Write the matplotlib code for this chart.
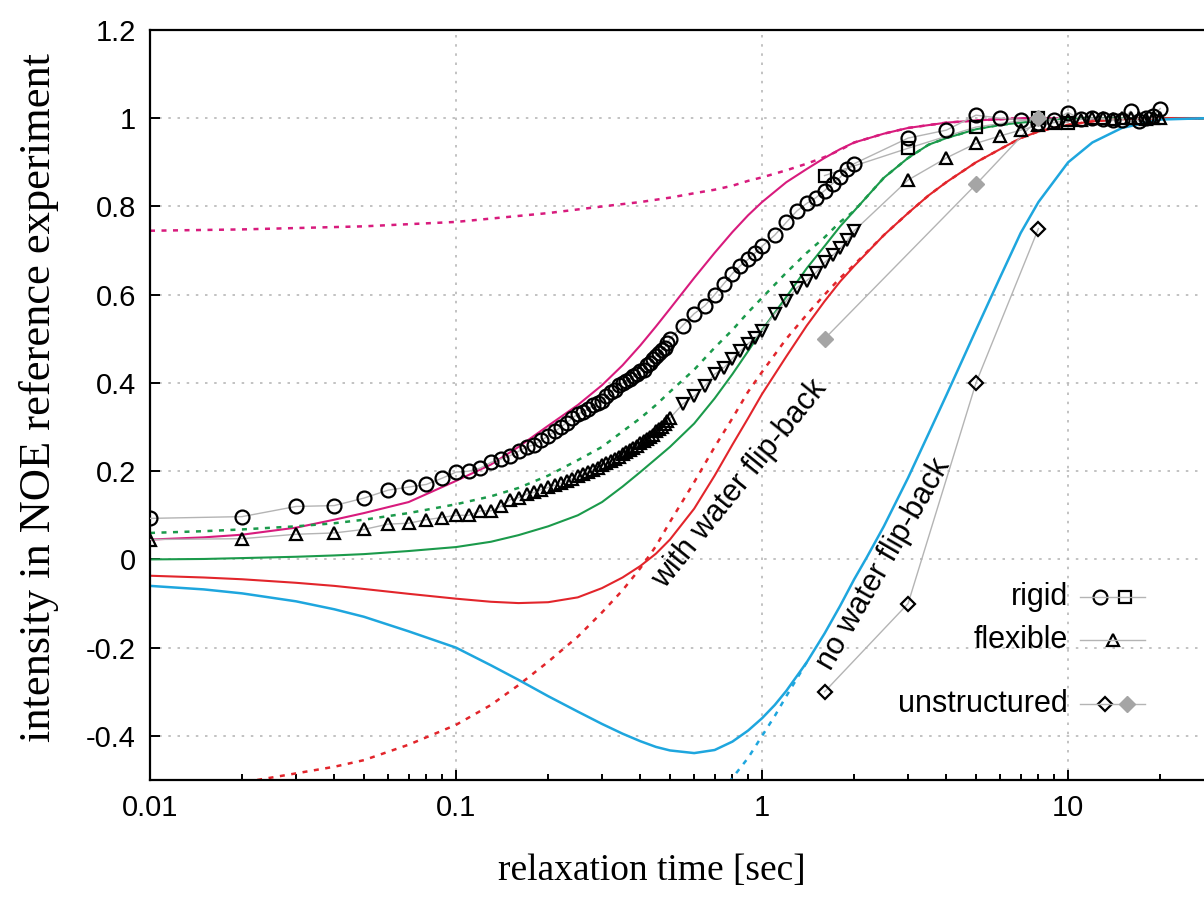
import numpy as np
import matplotlib
matplotlib.use("Agg")
import matplotlib.pyplot as plt
from matplotlib.ticker import FixedLocator, LogLocator, NullFormatter

plt.rcParams["font.family"] = "Liberation Sans"

# ---- model curves ----
mag_t = [0.01, 0.015, 0.02, 0.03, 0.04, 0.05, 0.07, 0.1, 0.13, 0.16, 0.2, 0.25, 0.3, 0.35,
         0.4, 0.45, 0.5, 0.6, 0.7, 0.8, 0.9, 1.0, 1.2, 1.4, 1.6, 1.8, 2.0, 2.5, 3.0, 4.0,
         5.0, 7.0, 28.0]
mag_v = [0.045, 0.05, 0.056, 0.072, 0.09, 0.105, 0.13, 0.178, 0.215, 0.255, 0.303, 0.35,
         0.395, 0.44, 0.485, 0.528, 0.568, 0.638, 0.695, 0.742, 0.78, 0.81, 0.855, 0.885,
         0.91, 0.93, 0.945, 0.965, 0.978, 0.99, 0.995, 1.0, 1.0]

magd_t = [0.01, 0.02, 0.05, 0.1, 0.2, 0.3, 0.4, 0.5, 0.6, 0.7, 0.8, 0.9, 1.0, 1.2, 1.4,
          1.6, 1.8, 2.0, 2.5, 3.0, 4.0, 5.0, 7.0, 28.0]
magd_v = [0.745, 0.748, 0.755, 0.765, 0.785, 0.80, 0.81, 0.82, 0.83, 0.838, 0.847, 0.858,
          0.866, 0.882, 0.897, 0.912, 0.928, 0.945, 0.965, 0.978, 0.99, 0.995, 1.0, 1.0]

grn_t = [0.01, 0.015, 0.02, 0.03, 0.04, 0.05, 0.07, 0.1, 0.13, 0.16, 0.2, 0.25, 0.3, 0.35,
         0.4, 0.45, 0.5, 0.6, 0.7, 0.8, 0.9, 1.0, 1.2, 1.4, 1.6, 1.8, 2.0, 2.5, 3.0, 3.5,
         4.0, 5.0, 6.0, 7.0, 10.0, 28.0]
grn_v = [0.0, 0.001, 0.003, 0.006, 0.009, 0.012, 0.019, 0.028, 0.04, 0.055, 0.075, 0.1,
         0.13, 0.165, 0.198, 0.228, 0.255, 0.308, 0.365, 0.42, 0.472, 0.52, 0.595, 0.66,
         0.71, 0.755, 0.79, 0.865, 0.91, 0.94, 0.955, 0.975, 0.985, 0.99, 1.0, 1.0]

grnd_t = [0.01, 0.015, 0.02, 0.03, 0.04, 0.05, 0.07, 0.1, 0.13, 0.16, 0.2, 0.25, 0.3, 0.35,
          0.4, 0.45, 0.5, 0.6, 0.7, 0.8, 0.9, 1.0, 1.2, 1.4, 1.6, 1.8, 2.0, 2.5, 3.0, 3.5,
          4.0, 5.0, 6.0, 7.0, 10.0, 28.0]
grnd_v = [0.06, 0.064, 0.068, 0.075, 0.082, 0.09, 0.105, 0.125, 0.143, 0.162, 0.19, 0.225,
          0.255, 0.29, 0.32, 0.35, 0.38, 0.43, 0.48, 0.52, 0.56, 0.593, 0.65, 0.695, 0.73,
          0.765, 0.79, 0.865, 0.91, 0.94, 0.955, 0.975, 0.985, 0.99, 1.0, 1.0]

red_t = [0.01, 0.015, 0.02, 0.03, 0.04, 0.05, 0.07, 0.1, 0.13, 0.16, 0.2, 0.25, 0.3, 0.35,
         0.4, 0.45, 0.5, 0.6, 0.7, 0.8, 0.9, 1.0, 1.2, 1.4, 1.6, 1.8, 2.0, 2.5, 3.0, 3.5,
         4.0, 5.0, 6.0, 7.0, 8.0, 10.0, 12.0, 15.0, 20.0, 28.0]
red_v = [-0.037, -0.041, -0.045, -0.053, -0.06, -0.067, -0.078, -0.089, -0.096, -0.099,
         -0.097, -0.086, -0.065, -0.041, -0.015, 0.013, 0.045, 0.115, 0.19, 0.26, 0.32,
         0.375, 0.46, 0.53, 0.585, 0.63, 0.665, 0.735, 0.785, 0.825, 0.855, 0.9, 0.93,
         0.955, 0.97, 0.985, 0.993, 0.998, 1.0, 1.0]

redd_t = [0.0224, 0.03, 0.04, 0.05, 0.07, 0.1, 0.13, 0.16, 0.2, 0.25, 0.3, 0.35, 0.4, 0.45,
          0.5, 0.6, 0.7, 0.8, 0.9, 1.0, 1.2, 1.4, 1.6, 1.8, 2.0, 2.5, 3.0, 3.5, 4.0, 5.0,
          6.0, 7.0, 8.0, 10.0, 12.0, 15.0, 20.0, 28.0]
redd_v = [-0.5, -0.485, -0.47, -0.455, -0.42, -0.375, -0.33, -0.285, -0.232, -0.175, -0.12,
          -0.07, -0.02, 0.03, 0.085, 0.175, 0.255, 0.32, 0.38, 0.425, 0.5, 0.555, 0.6,
          0.638, 0.668, 0.735, 0.785, 0.825, 0.855, 0.9, 0.93, 0.955, 0.97, 0.985, 0.993,
          0.998, 1.0, 1.0]

blu_t = [0.01, 0.015, 0.02, 0.03, 0.04, 0.05, 0.07, 0.1, 0.13, 0.16, 0.2, 0.25, 0.3, 0.35,
         0.4, 0.45, 0.5, 0.6, 0.7, 0.8, 0.9, 1.0, 1.1, 1.2, 1.4, 1.6, 1.8, 2.0, 2.2, 2.5,
         3.0, 3.5, 4.0, 4.5, 5.0, 6.0, 7.0, 8.0, 10.0, 12.0, 15.0, 20.0, 28.0]
blu_v = [-0.06, -0.068, -0.077, -0.095, -0.113, -0.13, -0.163, -0.2, -0.24, -0.273, -0.31,
         -0.345, -0.373, -0.395, -0.412, -0.425, -0.433, -0.439, -0.432, -0.413, -0.388,
         -0.36, -0.33, -0.298, -0.233, -0.168, -0.105, -0.045, 0.005, 0.075, 0.185, 0.285,
         0.372, 0.45, 0.52, 0.64, 0.74, 0.81, 0.9, 0.945, 0.978, 0.997, 1.0]

blud_t = [0.78, 0.9, 1.0, 1.1, 1.2, 1.3, 1.4]
blud_v = [-0.505, -0.45, -0.40, -0.355, -0.31, -0.27, -0.233]

# ---- measured data ----
rig_t = ([round(0.01 * i, 2) for i in range(1, 51)]
         + [0.55, 0.6, 0.65, 0.7, 0.75, 0.8, 0.85, 0.9, 0.95, 1.0]
         + [1.1, 1.2, 1.3, 1.4, 1.5, 1.6, 1.7, 1.8, 1.9, 2.0]
         + [3, 4, 5, 6, 7, 8, 9, 10, 11, 12, 13, 14, 15, 16, 17, 18, 19, 20])
rig_v = [0.093, 0.097, 0.12, 0.122, 0.139, 0.157, 0.164, 0.17, 0.184, 0.198,
         0.20, 0.207, 0.22, 0.227, 0.235, 0.245, 0.255, 0.26, 0.27, 0.28,
         0.29, 0.30, 0.31, 0.32, 0.33, 0.335, 0.34, 0.35, 0.355, 0.36,
         0.37, 0.38, 0.385, 0.395, 0.40, 0.405, 0.41, 0.415, 0.42, 0.427,
         0.43, 0.44, 0.445, 0.455, 0.462, 0.468, 0.475, 0.48, 0.49, 0.50,
         0.53, 0.557, 0.575, 0.60, 0.625, 0.648, 0.666, 0.68, 0.695, 0.71,
         0.735, 0.764, 0.79, 0.807, 0.82, 0.836, 0.852, 0.866, 0.886, 0.897,
         0.955, 0.973, 1.007, 1.0, 0.997, 0.99, 0.995, 1.013, 0.998, 1.0,
         0.998, 0.995, 0.995, 1.016, 0.993, 1.0, 1.005, 1.022]

rigsq_t = [1.6, 3.0, 5.0, 8.0, 10.0]
rigsq_v = [0.87, 0.932, 0.98, 1.0, 0.99]

flex_t = [round(0.01 * i, 2) for i in range(1, 51)]
flex_v = [0.045, 0.047, 0.057, 0.06, 0.068, 0.08, 0.082, 0.09, 0.095, 0.10,
          0.10, 0.11, 0.11, 0.12, 0.135, 0.14, 0.148, 0.152, 0.158, 0.163,
          0.168, 0.173, 0.178, 0.183, 0.188, 0.193, 0.198, 0.203, 0.208, 0.213,
          0.218, 0.223, 0.228, 0.233, 0.238, 0.243, 0.248, 0.253, 0.258, 0.263,
          0.268, 0.273, 0.278, 0.283, 0.29, 0.295, 0.30, 0.307, 0.313, 0.32]
flex2_t = [0.55, 0.6, 0.65, 0.7, 0.75, 0.8, 0.85, 0.9, 0.95, 1.0,
           1.1, 1.2, 1.3, 1.4, 1.5, 1.6, 1.7, 1.8, 1.9, 2.0]
flex2_v = [0.352, 0.37, 0.393, 0.42, 0.434, 0.455, 0.473, 0.489, 0.502, 0.518,
           0.557, 0.586, 0.616, 0.632, 0.65, 0.673, 0.689, 0.705, 0.723, 0.745]
flex3_t = [3, 4, 5, 6, 7, 8, 9, 10, 11, 12, 13, 14, 15, 16, 17, 18, 19, 20]
flex3_v = [0.86, 0.91, 0.943, 0.96, 0.973, 0.984, 0.99, 0.995, 0.997, 1.0,
           1.0, 0.998, 1.0, 1.0, 1.0, 0.998, 1.0, 1.0]

uns_t = [1.6, 3.0, 5.0, 8.0]
uns_v = [-0.30, -0.10, 0.40, 0.75]
uns2_t = [1.6, 5.0, 8.0]
uns2_v = [0.50, 0.85, 1.0]

yticks = [-0.4, -0.2, 0, 0.2, 0.4, 0.6, 0.8, 1, 1.2]
yticklabels = ["-0.4", "-0.2", "0", "0.2", "0.4", "0.6", "0.8", "1", "1.2"]
xticks = [0.01, 0.1, 1, 10]
xticklabels = ["0.01", "0.1", "1", "10"]

MAG = "#d81b7d"
GRN = "#1b9a4b"
RED = "#e2252b"
BLU = "#1ea6de"
GRAY = "#b4b4b4"

fig = plt.figure(figsize=(12.04, 9.01), dpi=100)
ax = fig.add_axes([150 / 1204, 121 / 901, 1054 / 1204, 750 / 901])
ax.set_xscale("log")
ax.set_xlim(0.01, 27.8)
ax.set_ylim(-0.5, 1.2)

dot = (0, (2.0, 2.6))
ax.plot(magd_t, magd_v, color=MAG, lw=1.8, ls=dot, zorder=2)
ax.plot(mag_t, mag_v, color=MAG, lw=1.5, zorder=2)
ax.plot(grnd_t, grnd_v, color=GRN, lw=1.8, ls=dot, zorder=2)
ax.plot(grn_t, grn_v, color=GRN, lw=1.5, zorder=2)
ax.plot(redd_t, redd_v, color=RED, lw=1.8, ls=dot, zorder=2)
ax.plot(red_t, red_v, color=RED, lw=1.5, zorder=2)
ax.plot(blud_t, blud_v, color=BLU, lw=1.8, ls=dot, zorder=2)
ax.plot(blu_t, blu_v, color=BLU, lw=1.8, zorder=2)

mk = dict(mfc="none", mec="black", mew=1.6, zorder=4)
ax.plot(rig_t, rig_v, color=GRAY, lw=1.0, zorder=3)
ax.plot(rig_t, rig_v, ls="none", marker="o", ms=10, **mk)
ax.plot(rigsq_t, rigsq_v, color=GRAY, lw=1.0, zorder=3)
ax.plot(rigsq_t, rigsq_v, ls="none", marker="s", ms=9, **mk)

ax.plot(flex_t + flex2_t + flex3_t, flex_v + flex2_v + flex3_v, color=GRAY, lw=1.0, zorder=3)
ax.plot(flex_t, flex_v, ls="none", marker="^", ms=9, **mk)
ax.plot(flex2_t, flex2_v, ls="none", marker="v", ms=9, **mk)
ax.plot(flex3_t, flex3_v, ls="none", marker="^", ms=9, **mk)

ax.plot(uns_t, uns_v, color=GRAY, lw=1.0, zorder=3)
ax.plot(uns_t, uns_v, ls="none", marker="D", ms=7, **mk)
ax.plot(uns2_t, uns2_v, color=GRAY, lw=1.0, zorder=3)
ax.plot(uns2_t, uns2_v, ls="none", marker="D", ms=8, mfc="#a5a5a5", mec="#a5a5a5", zorder=4)

# hand-made legend
leg_fs = 22
rows = [("rigid", 0.244), ("flexible", 0.187), ("unstructured", 0.101)]
for label, yy in rows:
    ax.text(0.871, yy, label, transform=ax.transAxes, ha="right", va="center",
            fontsize=leg_fs, zorder=6)
    ax.plot([0.882, 0.944], [yy, yy], transform=ax.transAxes, color=GRAY, lw=1.0, zorder=5)
ax.plot([0.901], [0.244], transform=ax.transAxes, marker="o", ms=10, **mk)
ax.plot([0.925], [0.244], transform=ax.transAxes, marker="s", ms=9, **mk)
ax.plot([0.914], [0.187], transform=ax.transAxes, marker="^", ms=9, **mk)
ax.plot([0.906], [0.101], transform=ax.transAxes, marker="D", ms=7, **mk)
ax.plot([0.927], [0.101], transform=ax.transAxes, marker="D", ms=8,
        mfc="#a5a5a5", mec="#a5a5a5", zorder=5)

ax.text(0.847, 0.17, "with water flip-back", rotation=51, rotation_mode="anchor",
        ha="center", va="center", fontsize=22, zorder=6)
ax.text(2.5, -0.01, "no water flip-back", rotation=60, rotation_mode="anchor",
        ha="center", va="center", fontsize=22, zorder=6)

# axes styling
ax.spines["right"].set_visible(False)
for s in ["left", "bottom", "top"]:
    ax.spines[s].set_linewidth(1.6)
ax.xaxis.set_major_locator(FixedLocator(xticks))
ax.set_xticklabels(xticklabels)
ax.xaxis.set_minor_locator(LogLocator(base=10, subs=np.arange(2, 10)))
ax.xaxis.set_minor_formatter(NullFormatter())
ax.set_yticks(yticks)
ax.set_yticklabels(yticklabels)
ax.tick_params(which="both", direction="in", top=False, right=False, width=1.4)
ax.tick_params(which="major", length=7, labelsize=21, pad=10)
ax.tick_params(which="minor", length=4)
ax.grid(True, which="major", color="#b8b8b8", ls=(0, (1.5, 4)), lw=1.2)
ax.set_axisbelow(True)

ax.set_xlabel("relaxation time [sec]", family="Liberation Serif", fontsize=27)
ax.xaxis.set_label_coords(0.476, -0.098)
ax.set_ylabel("intensity in NOE reference experiment", family="Liberation Serif", fontsize=32)
ax.yaxis.set_label_coords(-0.086, 0.51)

fig.savefig("out.png", dpi=100)
